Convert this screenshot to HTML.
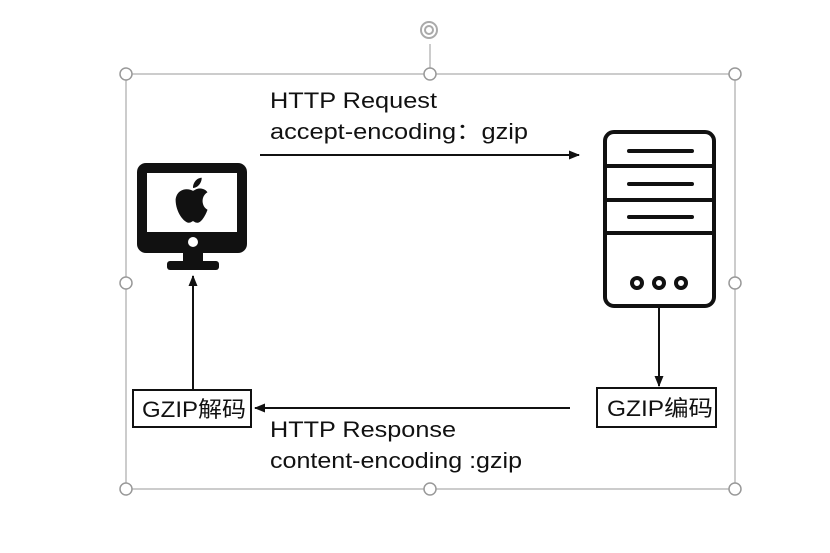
<!DOCTYPE html>
<html><head><meta charset="utf-8"><style>
html,body{margin:0;padding:0;background:#fff;}
svg{display:block;}
text{font-family:"Liberation Sans","Noto Sans CJK SC",sans-serif;fill:#111;}
</style></head><body>
<svg width="830" height="553" viewBox="0 0 830 553" xmlns="http://www.w3.org/2000/svg">
<defs>
<marker id="ah" markerWidth="12" markerHeight="12" refX="10" refY="6" orient="auto" markerUnits="userSpaceOnUse">
<path d="M0,1.5 L11,6 L0,10.5 z" fill="#111"/></marker>
</defs>
<rect x="126" y="74" width="609" height="415" fill="none" stroke="#bbb" stroke-width="1.5"/>
<line x1="430" y1="44" x2="430" y2="74" stroke="#bbb" stroke-width="1.5"/>
<g fill="none" stroke="#aaa" stroke-width="2">
<circle cx="429" cy="30" r="8"/><circle cx="429" cy="30" r="4"/>
</g>
<g fill="#fff" stroke="#999" stroke-width="1.5">
<circle cx="126" cy="74" r="6"/><circle cx="430" cy="74" r="6"/><circle cx="735" cy="74" r="6"/>
<circle cx="126" cy="283" r="6"/><circle cx="735" cy="283" r="6"/>
<circle cx="126" cy="489" r="6"/><circle cx="430" cy="489" r="6"/><circle cx="735" cy="489" r="6"/>
</g>
<text x="270" y="108" font-size="22" textLength="167" lengthAdjust="spacingAndGlyphs">HTTP Request</text>
<text x="270" y="139" font-size="22" textLength="258" lengthAdjust="spacingAndGlyphs">accept-encoding：gzip</text>
<text x="270" y="437" font-size="22" textLength="186" lengthAdjust="spacingAndGlyphs">HTTP Response</text>
<text x="270" y="468" font-size="22" textLength="252" lengthAdjust="spacingAndGlyphs">content-encoding :gzip</text>
<g stroke="#111" stroke-width="2" fill="none">
<line x1="260" y1="155" x2="579" y2="155" marker-end="url(#ah)"/>
<line x1="570" y1="408" x2="255" y2="408" marker-end="url(#ah)"/>
<line x1="193" y1="390" x2="193" y2="276" marker-end="url(#ah)"/>
<line x1="659" y1="307" x2="659" y2="386" marker-end="url(#ah)"/>
</g>
<rect x="133" y="390" width="118" height="37" fill="#fff" stroke="#111" stroke-width="2"/>
<text x="142" y="417" font-size="22" textLength="104" lengthAdjust="spacingAndGlyphs">GZIP解码</text>
<rect x="597" y="388" width="119" height="39" fill="#fff" stroke="#111" stroke-width="2"/>
<text x="607" y="416" font-size="22" textLength="106" lengthAdjust="spacingAndGlyphs">GZIP编码</text>
<rect x="137" y="163" width="110" height="90" rx="9" fill="#111"/>
<rect x="147" y="173" width="90" height="59" fill="#fff"/>
<circle cx="193" cy="242" r="5" fill="#fff"/>
<rect x="183" y="253" width="20" height="10" fill="#111"/>
<rect x="167" y="261" width="52" height="9" rx="3" fill="#111"/>
<g transform="translate(193,201) scale(1.45) translate(-193,-199)">
<path d="M193,192 c-3,-2 -11,-2 -12,6 c0,9 6,16 9,16 c2,0 2,-1 3,-1 c1,0 1,1 3,1 c3,0 6,-6 7,-9 c-4,-2 -5,-9 0,-12 c-2,-3 -6,-3 -8,-2 z M193,190 c0,-4 3,-7 6,-7 c0,4 -3,7 -6,7 z" fill="#111"/>
</g>
<g fill="none" stroke="#111" stroke-width="4">
<rect x="605" y="132" width="109" height="174" rx="9"/>
<line x1="605" y1="166" x2="714" y2="166"/>
<line x1="605" y1="200" x2="714" y2="200"/>
<line x1="605" y1="233" x2="714" y2="233"/>
<line x1="629" y1="151" x2="692" y2="151" stroke-linecap="round"/>
<line x1="629" y1="184" x2="692" y2="184" stroke-linecap="round"/>
<line x1="629" y1="217" x2="692" y2="217" stroke-linecap="round"/>
<circle cx="637" cy="283" r="5"/><circle cx="659" cy="283" r="5"/><circle cx="681" cy="283" r="5"/>
</g>
</svg>
</body></html>
